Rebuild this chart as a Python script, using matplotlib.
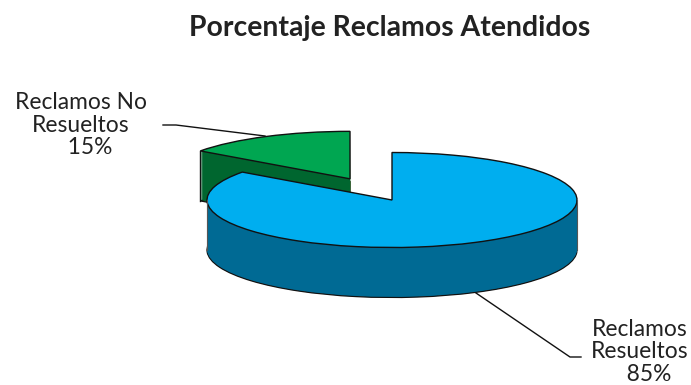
import numpy as np
import matplotlib
matplotlib.use('Agg')
import matplotlib.pyplot as plt

categorias = ['Reclamos\nResueltos', 'Reclamos No\nResueltos']
valores = [85, 15]
separacion = [0, 0.5]
color_tapa = ['#00AEEF', '#00A651']
color_lado = ['#006A94', '#00662F']

W, H = 691, 385
radio = 185
alto_elipse = 47.5
k = radio / alto_elipse      # the pie is flattened by stretching the y scale
prof = 50
cx, cy = 392, 200


def yd(py):
    return (H - py) * k


plt.rcParams['font.family'] = ['Lato', 'DejaVu Sans']
fig = plt.figure(figsize=(W / 100, H / 100), dpi=100)
ax = fig.add_axes([0, 0, 1, 1])


def tarta(d, colores, **props):
    # explode is in data units, so scale it by the radius
    w, _ = ax.pie(valores, explode=[e * radio for e in separacion], colors=colores, radius=radio,
                  center=(cx, yd(cy + d)), startangle=90, counterclock=False,
                  frame=True, wedgeprops=props)
    # green slice goes behind the blue one
    w[0].set_zorder(w[0].get_zorder() + 10)
    return w


# side walls, a stack of pies going up from the bottom
for d in range(prof, 0, -1):
    if d == prof:
        tarta(d, color_lado, linewidth=0.9, edgecolor='#111111')
    else:
        tarta(d, color_lado, linewidth=0)

# top face
arriba = tarta(0, color_tapa, linewidth=1.0, edgecolor='#111111')
for w in arriba:
    w.set_zorder(w.get_zorder() + 1)

# vertical edges of the walls
verde = arriba[1]
x_verde = verde.center[0] + radio * np.cos(np.radians(verde.theta2))
y_verde = verde.center[1] + radio * np.sin(np.radians(verde.theta2))
ax.plot([x_verde, x_verde], [y_verde, y_verde - prof * k], color='#111111', lw=1.0, zorder=2)
for x in (cx - radio, cx + radio):
    ax.plot([x, x], [yd(cy), yd(cy + prof)], color='#555555', lw=0.8, zorder=12)

ax.set_aspect('auto')
ax.set_xlim(0, W)
ax.set_ylim(0, H * k)
ax.set_xticks([])
ax.set_yticks([])
ax.axis('off')

# leader lines
ax.plot([163, 176, 265], [yd(125), yd(125), yd(136)], color='#111111', lw=1.0, zorder=30)
ax.plot([476, 570, 581], [yd(293), yd(357), yd(357)], color='#111111', lw=1.0, zorder=30)

ax.text(390, yd(28), 'Porcentaje Reclamos Atendidos', fontsize=20.4, fontweight='bold',
        ha='center', va='center', color='#222222')
ax.text(81, yd(125), f'{categorias[1]}\n   {valores[1]}%', fontsize=16.4,
        ha='center', va='center', linespacing=1.1, color='#222222')
ax.text(640, yd(352), f'{categorias[0]}\n   {valores[0]}%', fontsize=16.4,
        ha='center', va='center', linespacing=1.1, color='#222222')

fig.savefig('out.png', dpi=100)
